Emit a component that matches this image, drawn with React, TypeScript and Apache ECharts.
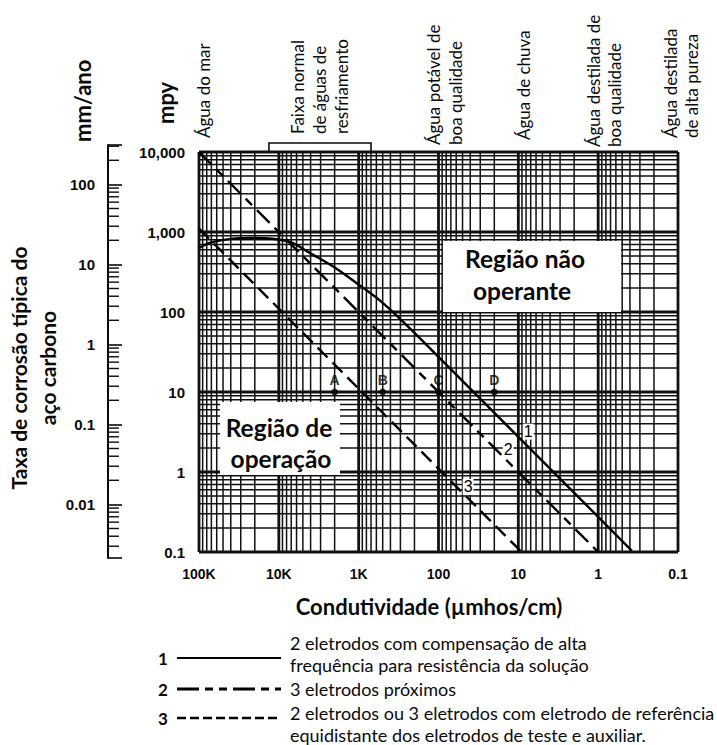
import React, { useEffect, useRef } from 'react';
import * as echarts from 'echarts';

// ---------- data ----------
const X_MIN = 0.1;
const X_MAX = 100000;
const Y_MIN = 0.1;
const Y_MAX = 10000;
const MPY_TO_MM = 0.0254;

const xTickValues = [100000, 10000, 1000, 100, 10, 1, 0.1];
const xTickLabels = ['100K', '10K', '1K', '100', '10', '1', '0.1'];
const mpyTickValues = [10000, 1000, 100, 10, 1, 0.1];
const mpyTickLabels = ['10,000', '1,000', '100', '10', '1', '0.1'];
const mmTickValues = [100, 10, 1, 0.1, 0.01];
const mmTickLabels = ['100', '10', '1', '0.1', '0.01'];

// curve 1: 2 electrodes with high-frequency compensation
const curve1 = [
  [100000, 630], [70000, 740], [40000, 820], [20000, 840], [12000, 825],
  [7000, 740], [4000, 540], [2000, 360], [1000, 220], [500, 130],
  [200, 55], [100, 27.5], [10, 2.75], [1, 0.275], [0.38, 0.104],
];
// curve 2: 3 close electrodes
const curve2 = [[100000, 10000], [1, 0.1]];
// curve 3: 2 or 3 electrodes, equidistant reference
const curve3 = [[100000, 1100], [9.1, 0.1]];

const refPointNames = ['A', 'B', 'C', 'D'];
const refPointX = [2000, 500, 100, 20];
const refPointY = [10, 10, 10, 10];

const curveLabelNames = ['1', '2', '3'];
const curveLabelX = [7.5, 13.4, 42.6];
const curveLabelY = [3.2, 1.9, 0.65];

const coolingRange = [13300, 700];

const decadeMults = [1, 2, 3, 4, 5, 6, 7, 8, 9];

function logGrid(min: number, max: number): number[] {
  const out: number[] = [];
  for (let e = Math.floor(Math.log10(min)) - 1; e <= Math.ceil(Math.log10(max)); e++) {
    for (const m of decadeMults) {
      const v = m * Math.pow(10, e);
      if (v >= min * 0.9999 && v <= max * 1.0001) out.push(v);
    }
  }
  return out;
}

const gridX = logGrid(X_MIN, X_MAX);
const gridY = logGrid(Y_MIN, Y_MAX);

const MM_MIN = Y_MIN * MPY_TO_MM / Math.pow(10, 6 / 80);
const MM_MAX = Y_MAX * MPY_TO_MM * Math.pow(10, 7 / 80);
const mmMinor = logGrid(MM_MIN, MM_MAX).filter(
  (v) => Math.abs(Math.log10(v) - Math.round(Math.log10(v))) > 1e-6
);

const isDecade = (v: number) => Math.abs(Math.log10(v) - Math.round(Math.log10(v))) < 1e-6;

const labelFor = (vals: number[], labels: string[]) => (v: number) => {
  const i = vals.findIndex((t) => Math.abs(Math.log10(t) - Math.log10(v)) < 1e-4);
  return i >= 0 ? labels[i] : '';
};

const INK = '#0a0a0a';
const SANS = 'Lato';
const NUM = 'Liberation Sans';

function vText(text: string, x: number, y: number, size: number, bold = false, align = 'left') {
  return {
    type: 'text',
    x,
    y,
    rotation: Math.PI / 2,
    z: 100,
    style: {
      text,
      fill: INK,
      font: `${bold ? 'bold ' : ''}${size}px ${SANS}`,
      textAlign: align,
      textVerticalAlign: 'middle',
    },
  };
}

function hText(text: string, x: number, y: number, size: number, bold = false, align = 'left', family = SANS) {
  return {
    type: 'text',
    x,
    y,
    z: 100,
    style: {
      text,
      fill: INK,
      font: `${bold ? 'bold ' : ''}${size}px ${family}`,
      textAlign: align,
      textVerticalAlign: 'middle',
    },
  };
}

export default function App() {
  const ref = useRef<HTMLDivElement>(null);

  useEffect(() => {
    document.body.style.margin = '0';
    if (!ref.current) return;
    const chart = echarts.init(ref.current, undefined, { renderer: 'svg' });

    const gridLineV = {
      type: 'custom',
      xAxisIndex: 0,
      yAxisIndex: 0,
      silent: true,
      z: 1,
      data: gridX.map((v) => [v, Y_MIN]),
      encode: { x: 0, y: 1 },
      renderItem: (_p: any, api: any) => {
        const v = api.value(0);
        const a = api.coord([v, Y_MAX]);
        const b = api.coord([v, Y_MIN]);
        return {
          type: 'line',
          shape: { x1: a[0], y1: a[1], x2: b[0], y2: b[1] },
          style: { stroke: '#111', lineWidth: isDecade(v) ? 2.8 : 1.5 },
        };
      },
    };
    const gridLineH = {
      type: 'custom',
      xAxisIndex: 0,
      yAxisIndex: 0,
      silent: true,
      z: 1,
      data: gridY.map((v) => [X_MIN, v]),
      encode: { x: 0, y: 1 },
      renderItem: (_p: any, api: any) => {
        const v = api.value(1);
        const a = api.coord([X_MAX, v]);
        const b = api.coord([X_MIN, v]);
        return {
          type: 'line',
          shape: { x1: a[0], y1: a[1], x2: b[0], y2: b[1] },
          style: { stroke: '#111', lineWidth: isDecade(v) ? 2.8 : 1.5 },
        };
      },
    };
    const bracket = {
      type: 'custom',
      xAxisIndex: 0,
      yAxisIndex: 0,
      silent: true,
      clip: false,
      z: 5,
      data: [[coolingRange[0], Y_MAX, coolingRange[1]]],
      encode: { x: [0, 2], y: 1 },
      renderItem: (_p: any, api: any) => {
        const a = api.coord([api.value(0), api.value(1)]);
        const b = api.coord([api.value(2), api.value(1)]);
        return {
          type: 'polyline',
          shape: { points: [[a[0], a[1]], [a[0], a[1] - 9], [b[0], b[1] - 9], [b[0], b[1]]] },
          style: { stroke: INK, lineWidth: 1.6, fill: 'none' },
        };
      },
    };
    const mmMinorTicks = {
      type: 'custom',
      xAxisIndex: 1,
      yAxisIndex: 1,
      silent: true,
      clip: false,
      z: 5,
      data: mmMinor.map((v) => [0, v]),
      encode: { x: 0, y: 1 },
      renderItem: (_p: any, api: any) => {
        const p = api.coord([0, api.value(1)]);
        return {
          type: 'line',
          shape: { x1: p[0], y1: p[1], x2: p[0] + 11, y2: p[1] },
          style: { stroke: INK, lineWidth: 1.4 },
        };
      },
    };
    const curveLabels = {
      type: 'custom',
      xAxisIndex: 0,
      yAxisIndex: 0,
      silent: true,
      z: 6,
      data: curveLabelNames.map((n, i) => [curveLabelX[i], curveLabelY[i], n]),
      encode: { x: 0, y: 1 },
      renderItem: (params: any, api: any) => {
        const p = api.coord([api.value(0), api.value(1)]);
        return {
          type: 'text',
          x: p[0],
          y: p[1],
          style: {
            text: curveLabelNames[params.dataIndex],
            fill: '#000',
            font: `16px ${NUM}`,
            textAlign: 'center',
            textVerticalAlign: 'middle',
            backgroundColor: '#fff',
            padding: [0, 1],
          },
        };
      },
    };

    const lineStyleBase = { color: '#000', width: 2.4 };

    const option: any = {
      animation: false,
      textStyle: { fontFamily: SANS },
      grid: [
        { left: 199, top: 152, width: 479, height: 400, show: false },
        { left: 108, top: 145, width: 20, height: 413, show: false },
      ],
      xAxis: [
        {
          type: 'log',
          logBase: 10,
          gridIndex: 0,
          min: X_MIN,
          max: X_MAX,
          inverse: true,
          axisLine: { show: false },
          axisTick: { show: false },
          splitLine: { show: false },
          axisLabel: {
            formatter: labelFor(xTickValues, xTickLabels),
            margin: 15,
            fontFamily: NUM,
            fontWeight: 'bold',
            fontSize: 14,
            color: INK,
          },
        },
        { type: 'value', gridIndex: 1, min: 0, max: 1, show: false },
      ],
      yAxis: [
        {
          type: 'log',
          logBase: 10,
          gridIndex: 0,
          min: Y_MIN,
          max: Y_MAX,
          axisLine: { show: false },
          axisTick: { show: false },
          splitLine: { show: false },
          axisLabel: {
            formatter: labelFor(mpyTickValues, mpyTickLabels),
            margin: 14,
            fontFamily: NUM,
            fontWeight: 'bold',
            fontSize: 15,
            color: INK,
          },
        },
        {
          type: 'log',
          logBase: 10,
          gridIndex: 1,
          min: MM_MIN,
          max: MM_MAX,
          axisLine: { show: true, lineStyle: { color: INK, width: 2 } },
          axisTick: { show: true, inside: true, length: 14, lineStyle: { color: INK, width: 1.6 } },
          splitLine: { show: false },
          axisLabel: {
            formatter: labelFor(mmTickValues, mmTickLabels),
            margin: 13,
            fontFamily: NUM,
            fontWeight: 'bold',
            fontSize: 15,
            color: INK,
            showMinLabel: true,
            showMaxLabel: true,
          },
        },
      ],
      series: [
        gridLineV,
        gridLineH,
        bracket,
        mmMinorTicks,
        {
          type: 'line',
          name: '1',
          data: curve1,
          smooth: 0.35,
          symbol: 'none',
          z: 3,
          lineStyle: { ...lineStyleBase, type: 'solid' },
        },
        {
          type: 'line',
          name: '2',
          data: curve2,
          symbol: 'none',
          z: 3,
          lineStyle: { ...lineStyleBase, type: [18, 7, 9, 7] },
        },
        {
          type: 'line',
          name: '3',
          data: curve3,
          symbol: 'none',
          z: 3,
          lineStyle: { ...lineStyleBase, type: [14, 7] },
        },
        {
          type: 'scatter',
          name: 'pontos',
          z: 4,
          symbol: 'circle',
          symbolSize: 7,
          itemStyle: { color: '#000' },
          data: refPointNames.map((n, i) => ({ name: n, value: [refPointX[i], refPointY[i]] })),
          label: {
            show: true,
            position: 'top',
            distance: 2,
            formatter: '{b}',
            fontFamily: NUM,
            fontWeight: 'bold',
            fontSize: 14,
            color: '#000',
            textBorderWidth: 0,
          },
        },
        curveLabels,
      ],
      graphic: [
        // column titles
        vText('mm/ano', 82, 142, 22, true),
        vText('mpy', 165, 124, 22, true),
        // water types
        vText('Água do mar', 203, 138, 17),
        vText('Faixa normal', 297, 134, 17),
        vText('de águas de', 319, 134, 17),
        vText('resfriamento', 341, 134, 17),
        vText('Água potável de', 433, 145, 17),
        vText('boa qualidade', 455, 145, 17),
        vText('Água de chuva', 523, 140, 17),
        vText('Água destilada de', 593, 147, 17),
        vText('boa qualidade', 614, 147, 17),
        vText('Água destilada', 670, 138, 17),
        vText('de alta pureza', 691, 138, 17),
        // y title
        vText('Taxa de corrosão típica do', 18, 368, 21, true, 'center'),
        vText('aço carbono', 47, 368, 21, true, 'center'),
        // x title
        hText('Condutividade (µmhos/cm)', 429, 606, 22, true, 'center'),
        // regions
        {
          type: 'rect',
          z: 90,
          shape: { x: 443, y: 241, width: 178, height: 71 },
          style: { fill: '#fff' },
        },
        hText('Região não', 525, 258, 24.5, true, 'center'),
        hText('operante', 522, 290, 24.5, true, 'center'),
        {
          type: 'rect',
          z: 90,
          shape: { x: 220, y: 402, width: 120, height: 73 },
          style: { fill: '#fff' },
        },
        hText('Região de', 279, 427, 24.5, true, 'center'),
        hText('operação', 281, 458, 24.5, true, 'center'),
        // legend
        hText('1', 163, 658, 17, true, 'center'),
        { type: 'line', z: 100, shape: { x1: 177, y1: 658, x2: 281, y2: 658 }, style: { stroke: '#000', lineWidth: 2 } },
        hText('2 eletrodos com compensação de alta', 290, 643, 18),
        hText('frequência para resistência da solução', 290, 665, 18),
        hText('2', 163, 689, 17, true, 'center'),
        { type: 'line', z: 100, shape: { x1: 177, y1: 689, x2: 281, y2: 689 }, style: { stroke: '#000', lineWidth: 3, lineDash: [22, 6, 8, 6, 8, 6] } },
        hText('3 eletrodos próximos', 290, 689, 18),
        hText('3', 163, 718, 17, true, 'center'),
        { type: 'line', z: 100, shape: { x1: 177, y1: 718, x2: 281, y2: 718 }, style: { stroke: '#000', lineWidth: 2.5, lineDash: [9, 4] } },
        hText('2 eletrodos ou 3 eletrodos com eletrodo de referência', 290, 713, 18),
        hText('equidistante dos eletrodos de teste e auxiliar.', 290, 735, 18),
      ],
    };

    chart.setOption(option);
    return () => chart.dispose();
  }, []);

  return <div ref={ref} style={{ width: 717, height: 745 }} />;
}
